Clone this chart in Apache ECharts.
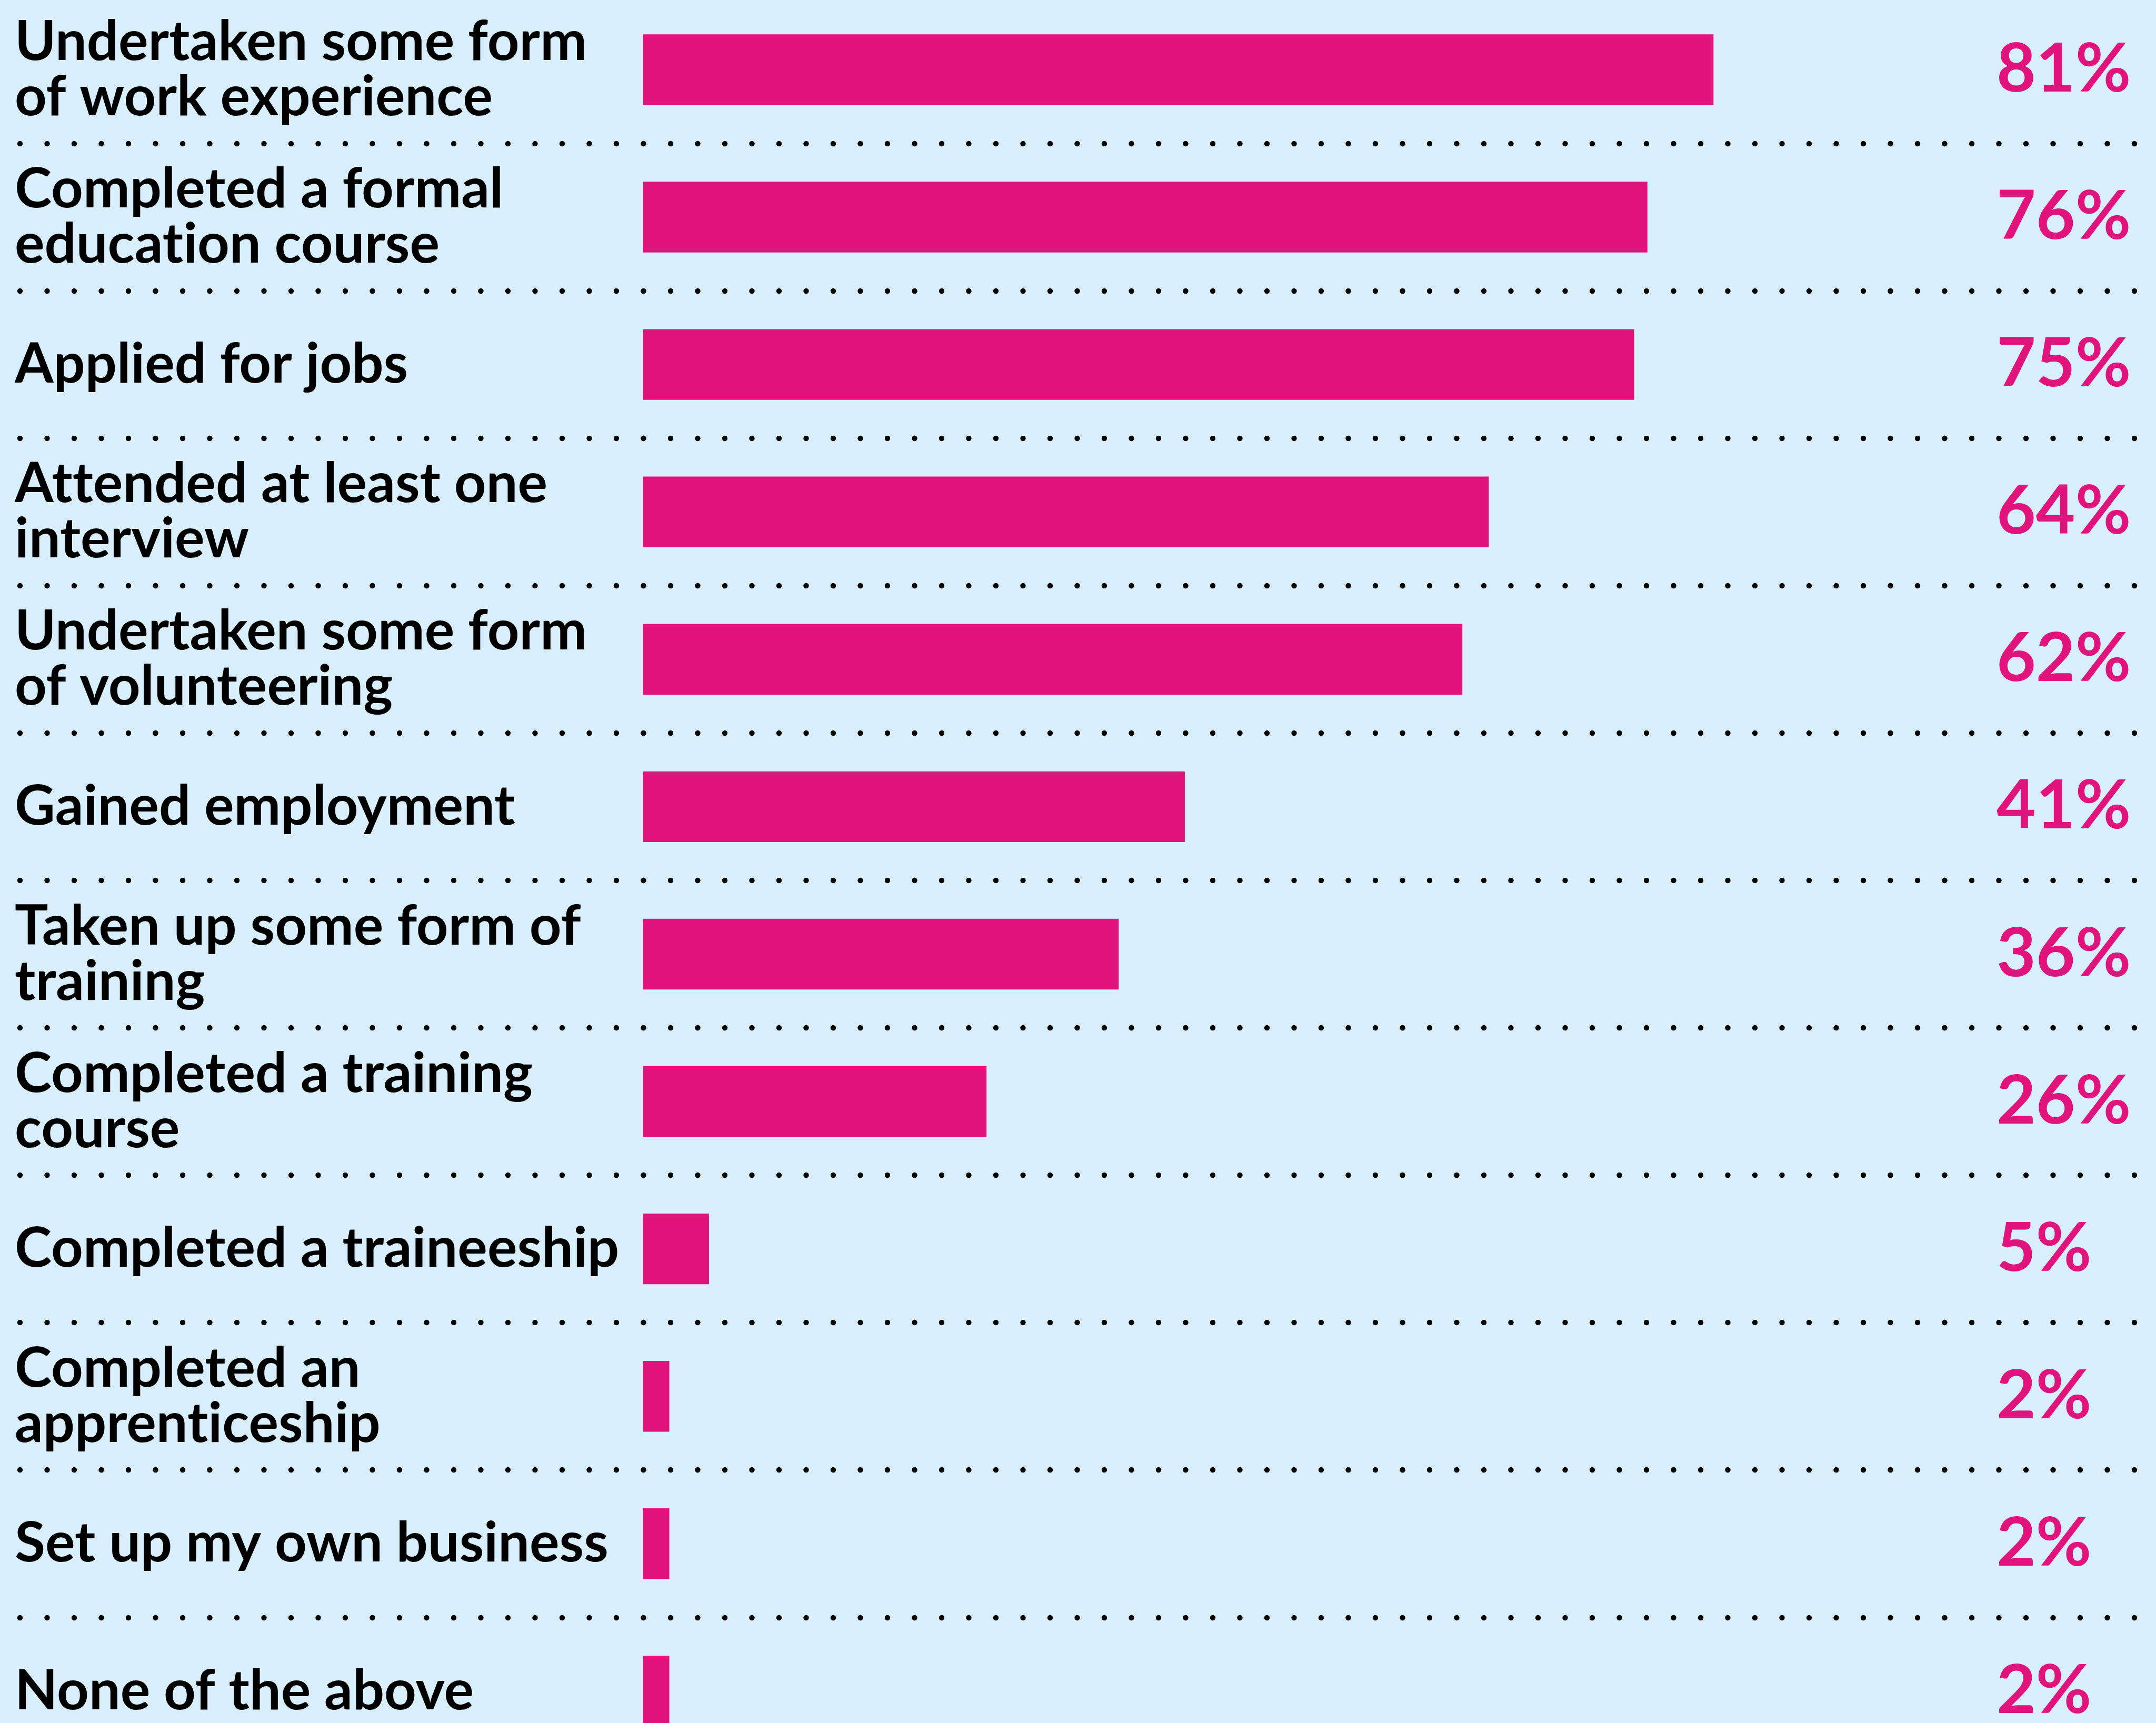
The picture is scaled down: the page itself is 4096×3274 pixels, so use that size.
<!DOCTYPE html>
<html>
<head>
<meta charset="utf-8">
<script src="https://cdn.jsdelivr.net/npm/echarts@6/dist/echarts.min.js"></script>
<style>
  html, body { margin: 0; padding: 0; background: #D9EEFB; }
  #chart { width: 4096px; height: 3274px; }
</style>
</head>
<body>
<div id="chart"></div>
<script>
// Activities reported, share of respondents (%)
const categories = [
  'Undertaken some form\nof work experience',
  'Completed a formal\neducation course',
  'Applied for jobs',
  'Attended at least one\ninterview',
  'Undertaken some form\nof volunteering',
  'Gained employment',
  'Taken up some form of\ntraining',
  'Completed a training\ncourse',
  'Completed a traineeship',
  'Completed an\napprenticeship',
  'Set up my own business',
  'None of the above'
];
const values = [81, 76, 75, 64, 62, 41, 36, 26, 5, 2, 2, 2];

const PINK = '#E0147C';
const BG = '#D9EEFB';

// Lato ships a "ti" ligature; a tiny letter spacing keeps the letters separate.
(function () {
  const proto = CanvasRenderingContext2D.prototype;
  const fill = proto.fillText;
  const measure = proto.measureText;
  proto.fillText = function () { this.letterSpacing = '0.01px'; return fill.apply(this, arguments); };
  proto.measureText = function () { this.letterSpacing = '0.01px'; return measure.apply(this, arguments); };
})();

// Layout
const rowTop = -7.6;          // grid top (first band starts just above the canvas)
const rowsHeight = 3361;      // 12 bands
const barLeft = 1221.4;       // x of the value 0
const pxPerUnit = 25.11;      // horizontal scale per percentage point
const labelLeft = 28;         // category labels' left edge
const valueX = 3793;          // value labels' left edge

const chart = echarts.init(document.getElementById('chart'), null, { renderer: 'canvas' });

chart.setOption({
  backgroundColor: BG,
  animation: false,
  grid: [
    { left: barLeft, top: rowTop, width: pxPerUnit * 100, height: rowsHeight, containLabel: false, outerBoundsMode: 'none' },
    { left: 38, top: rowTop, width: 4019, height: rowsHeight, containLabel: false, outerBoundsMode: 'none' }
  ],
  xAxis: [
    { type: 'value', gridIndex: 0, min: 0, max: 100, show: false },
    { type: 'value', gridIndex: 1, min: 0, max: 1, show: false }
  ],
  yAxis: [
    {
      type: 'category',
      gridIndex: 0,
      data: categories,
      inverse: true,
      axisLine: { show: false },
      axisTick: { show: false },
      splitLine: { show: false },
      axisLabel: {
        align: 'left',
        margin: barLeft - labelLeft,
        color: '#000000',
        fontFamily: 'Lato',
        fontWeight: 'bold',
        fontSize: 106,
        lineHeight: 105
      }
    },
    {
      // dotted separators between the rows
      type: 'category',
      gridIndex: 1,
      data: categories,
      inverse: true,
      axisLine: { show: false },
      axisTick: { show: false },
      axisLabel: { show: false },
      splitLine: {
        show: true,
        interval: 0,
        lineStyle: { color: '#000000', width: 10.4, type: [0, 51.5], cap: 'round' }
      }
    }
  ],
  series: [
    {
      type: 'bar',
      xAxisIndex: 0,
      yAxisIndex: 0,
      data: values,
      barWidth: 134.4,
      itemStyle: { color: PINK },
      label: {
        show: true,
        position: [valueX - barLeft, '50%'],
        align: 'left',
        verticalAlign: 'middle',
        formatter: '{c}%',
        color: PINK,
        fontFamily: 'Lato',
        fontWeight: 'bold',
        fontSize: 129
      }
    }
  ]
});
</script>
</body>
</html>
